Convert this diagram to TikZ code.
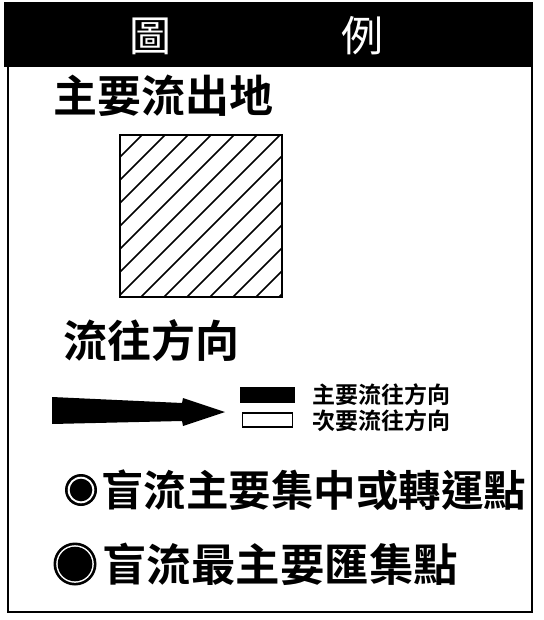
\documentclass[tikz,border=0pt]{standalone}
\usepackage{fontspec}
\newfontfamily\cjk{Noto Sans CJK TC}[BoldFont={Noto Sans CJK TC Bold}]
\begin{document}
\begin{tikzpicture}[x=1pt,y=-1pt,
  big/.style={inner sep=0pt,font=\cjk\bfseries\fontsize{44}{44}\selectfont},
  small/.style={inner sep=0pt,anchor=west,font=\cjk\bfseries\fontsize{23}{23}\selectfont},
  head/.style={inner sep=0pt,text=white,font=\cjk\fontsize{42}{42}\selectfont},
  frame/.style={line width=1.6pt}]
\useasboundingbox (0,0) rectangle (543,620);
% header and frame
\fill[black] (4,2) rectangle (533,67);
\draw[frame] (8,66) rectangle (532,612);
\node[head] (h1) at (150,36) {圖};
\node[head] (h2) at (362,36) {例};
% main source
\node[big,anchor=west] (t1) at (53,96) {主要流出地};
\coordinate (sqa) at (120,135);
\coordinate (sqb) at (282,297);
\begin{scope}
  \clip (sqa) rectangle (sqb);
  \foreach \c in {277,300,...,580}{
    \draw[line width=1.5pt] (\c-300,300) -- (\c-100,100);
  }
\end{scope}
\draw[line width=2pt] (sqa) rectangle (sqb);
% direction
\node[big,anchor=west] (t2) at (63,341) {流往方向};
\fill[black] (52,397) -- (182,403) -- (183,398) -- (225,412) -- (183,426) -- (182,421) -- (52,424) -- cycle;
\node[fill=black,minimum width=55pt,minimum height=16pt,inner sep=0pt] (b1) at (267.5,395) {};
\node[draw=black,line width=1.5pt,minimum width=50pt,minimum height=14pt,inner sep=0pt] (b2) at (267.5,420) {};
\node[small] (l1) at (312,395) {主要流往方向};
\node[small] (l2) at (312,421) {次要流往方向};
% points
\fill[black] (81,490) circle (16);
\fill[white] (81,490) circle (13.3);
\fill[black] (81,490) circle (11.3);
\node[big,anchor=west,font=\cjk\bfseries\fontsize{42.5}{42.5}\selectfont] (t3) at (101,490) {盲流主要集中或轉運點};
\fill[black] (75,564) circle (21.5);
\fill[white] (75,564) circle (18.8);
\fill[black] (75,564) circle (17.3);
\node[big,anchor=west,font=\cjk\bfseries\fontsize{44.5}{44.5}\selectfont] (t4) at (102,564) {盲流最主要匯集點};
\end{tikzpicture}
\end{document}
